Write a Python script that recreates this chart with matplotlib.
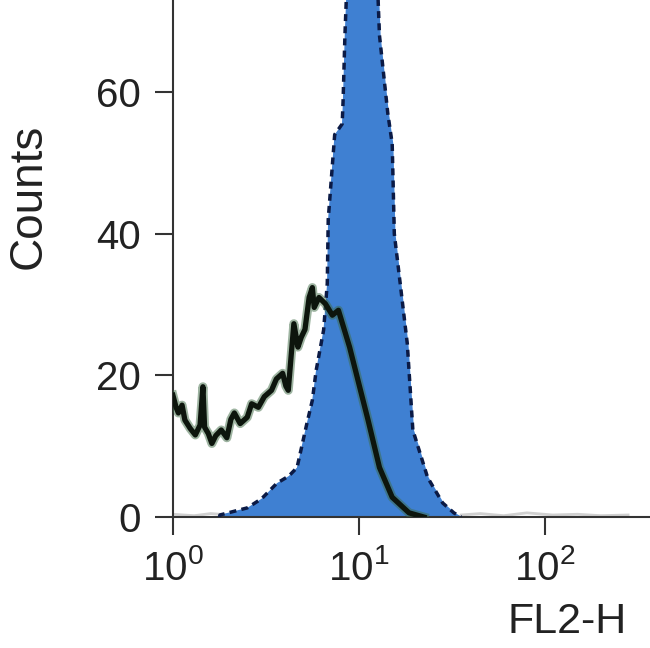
import numpy as np
import matplotlib
matplotlib.use('Agg')
import matplotlib.pyplot as plt

plt.rcParams['font.family'] = 'Liberation Sans'
plt.rcParams['mathtext.fontset'] = 'custom'
plt.rcParams['mathtext.rm'] = 'Liberation Sans'

# control (isotype) histogram, black/green trace
ctrl_x = [1.0, 1.04, 1.07, 1.12, 1.16, 1.24, 1.32, 1.40, 1.45, 1.48, 1.55, 1.62,
          1.70, 1.82, 1.95, 2.05, 2.14, 2.30, 2.51, 2.65, 2.88, 3.10, 3.39, 3.60,
          3.89, 4.05, 4.17, 4.47, 4.70, 4.90, 5.13, 5.40, 5.62, 5.75, 6.10, 6.61,
          7.20, 7.76, 8.91, 10.2, 11.2, 12.9, 15.1, 18.6, 22.4]
ctrl_y = [17.2, 15.5, 14.7, 15.8, 13.7, 12.5, 11.6, 13.0, 18.4, 12.7, 11.8, 10.4,
          11.5, 12.3, 11.2, 13.8, 14.7, 13.2, 14.1, 16.0, 15.5, 17.0, 17.9, 19.5,
          20.3, 18.5, 17.9, 27.3, 24.0, 25.4, 26.5, 31.0, 32.4, 29.6, 31.0, 30.1,
          28.5, 29.2, 24.0, 17.9, 13.7, 7.0, 2.8, 0.6, 0.0]

# stained sample histogram, blue fill
samp_x = [1.78, 1.79, 2.51, 3.00, 3.63, 4.20, 4.65, 5.25, 5.62, 5.89, 6.46, 6.76,
          6.84, 7.41, 8.13, 8.22, 8.41, 8.61, 9.12, 11.2, 12.6, 12.9, 14.3, 15.1,
          15.5, 16.6, 18.2, 19.5, 23.4, 28.2, 32.4, 35.5]
samp_y = [0.0, 0.3, 1.3, 2.6, 4.8, 5.8, 7.0, 13.2, 16.5, 20.7, 26.4, 33.0,
          42.0, 54.0, 55.5, 58.7, 68.0, 75.0, 90.0, 90.0, 75.0, 68.0, 57.0, 52.7,
          40.0, 33.4, 24.5, 12.3, 5.6, 2.0, 0.6, 0.0]

# faint background noise near zero
noise_x = [1.0, 1.3, 1.6, 2.0, 35.5, 45, 60, 80, 110, 150, 200, 280]
noise_y = [0.4, 0.2, 0.5, 0.3, 0.3, 0.5, 0.2, 0.6, 0.3, 0.4, 0.2, 0.3]

fig = plt.figure(figsize=(6.5, 6.48), dpi=100)
ax = fig.add_axes([0.266, 0.202, 0.734, 0.798])

ax.plot(noise_x[:4], noise_y[:4], color='#d0d0d0', lw=2)
ax.plot(noise_x[4:], noise_y[4:], color='#d0d0d0', lw=2)
ax.fill_between(samp_x, samp_y, color='#3f80d2', zorder=2)
ax.plot(samp_x, samp_y, color='#0b1a45', lw=2.5, ls=(0, (2, 1.5)), zorder=3)
ax.plot(ctrl_x, ctrl_y, color='#3e6b45', lw=6.5, alpha=0.5, zorder=4)
ax.plot(ctrl_x, ctrl_y, color='#0d150d', lw=3.8, zorder=5)

ax.set_xscale('log')
ax.set_xlim(1, 10 ** 2.565)
ax.set_ylim(0, 73)
ax.set_xticks([1, 10, 100])
ax.minorticks_off()
ax.set_yticks([0, 20, 40, 60])

for s in ['top', 'right']:
    ax.spines[s].set_visible(False)
for s in ['left', 'bottom']:
    ax.spines[s].set_linewidth(1.5)
    ax.spines[s].set_color('#333333')

ax.tick_params(axis='both', labelsize=29, length=13, width=1.5, colors='#333333',
               labelcolor='#222222', pad=10)
ax.set_ylabel('Counts', fontsize=33, color='#222222')
ax.yaxis.set_label_coords(-0.257, 0.62)
ax.set_xlabel('FL2-H', fontsize=31, color='#222222')
ax.xaxis.label.set_horizontalalignment('right')
ax.xaxis.set_label_coords(0.952, -0.165)

fig.savefig('out.png', dpi=100)
